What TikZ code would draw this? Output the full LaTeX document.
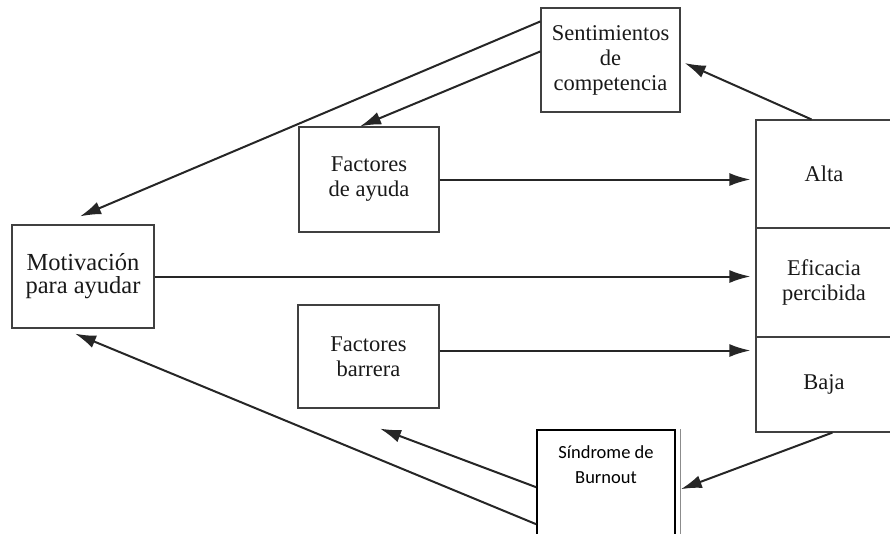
\documentclass[tikz,border=0pt]{standalone}
\usepackage{fontspec}
\setmainfont{Liberation Serif}
\newfontfamily\carlito{Carlito}
\usetikzlibrary{arrows.meta}

\begin{document}
\begin{tikzpicture}[x=1pt, y=-1pt]
        \tikzstyle{caja}   = [draw=black!75, line width=1.2pt, inner sep=0pt, align=center, text=black!90, font=\fontsize{22.5}{25}\selectfont]
        \tikzstyle{celda}  = [caja, minimum width=136pt]
        \tikzstyle{burn}   = [draw=black, line width=1.6pt, minimum width=138pt, minimum height=116pt]
        \tikzstyle{flecha} = [-{Latex[length=21pt, width=13pt]}, line width=2pt, draw=black!85]

        \useasboundingbox (0,0) rectangle (890,533);

        % Cajas de la izquierda.
        \node[caja, minimum width=139pt, minimum height=104pt] (sent)    at (610.5, 60)  {Sentimientos\\de\\competencia};
        \node[caja, minimum width=140pt, minimum height=105pt] (ayuda)   at (369, 179.5) {Factores\\de ayuda};
        \node[caja, minimum width=142pt, minimum height=103pt, font=\fontsize{24.5}{23}\selectfont] (motiv) at (83, 276.5) {Motivación\\para ayudar};
        \node[caja, minimum width=141pt, minimum height=103pt] (barrera) at (368.5, 356.5) {Factores\\barrera};

        % Columna de eficacia percibida.
        \foreach \nom/\y/\h/\txt in {
                 alta/174/108/Alta,
                 efic/282.5/109/{Eficacia\\percibida},
                 baja/384.5/95/Baja} {
            \node[celda, minimum height=\h pt] (\nom) at (824,\y) {\txt};
        }

        % Síndrome de Burnout.
        \node[burn] (sind) at (606, 488) {};
        \draw[draw=black!45, line width=1pt] ([xshift=5pt]sind.north east) -- ([xshift=5pt]sind.south east);
        \node[anchor=north, align=center, font=\carlito\fontsize{18.5}{25}\selectfont] (sindtxt) at ([yshift=-13pt]sind.north) {Síndrome de\\Burnout};

        % Flechas.
        \draw[flecha] ([xshift=56pt]alta.north west) -- ([xshift=4pt, yshift=-3pt]sent.east);
        \draw[flecha] ([yshift=-14pt]sent.north west) -- ([xshift=-3pt, yshift=8pt]motiv.north);
        \draw[flecha] ([yshift=-44pt]sent.north west) -- ([xshift=-9pt]ayuda.north);
        \draw[flecha] (ayuda.east) -- ([xshift=-5pt]ayuda.east -| alta.west);
        \draw[flecha] (motiv.east) -- ([xshift=-5pt]motiv.east -| efic.west);
        \draw[flecha] ([yshift=6pt]barrera.east) -- ([xshift=-5pt, yshift=6pt]barrera.east -| baja.west);
        \draw[flecha] ([xshift=77pt]baja.south west) -- ([xshift=5pt, yshift=-60pt]sind.north east);
        \draw[flecha] ([yshift=-58pt]sind.north west) -- ([xshift=11.5pt, yshift=-20pt]barrera.south);
        \draw[flecha] ([yshift=-95pt]sind.north west) -- ([xshift=-8pt, yshift=-5pt]motiv.south);
\end{tikzpicture}
\end{document}
